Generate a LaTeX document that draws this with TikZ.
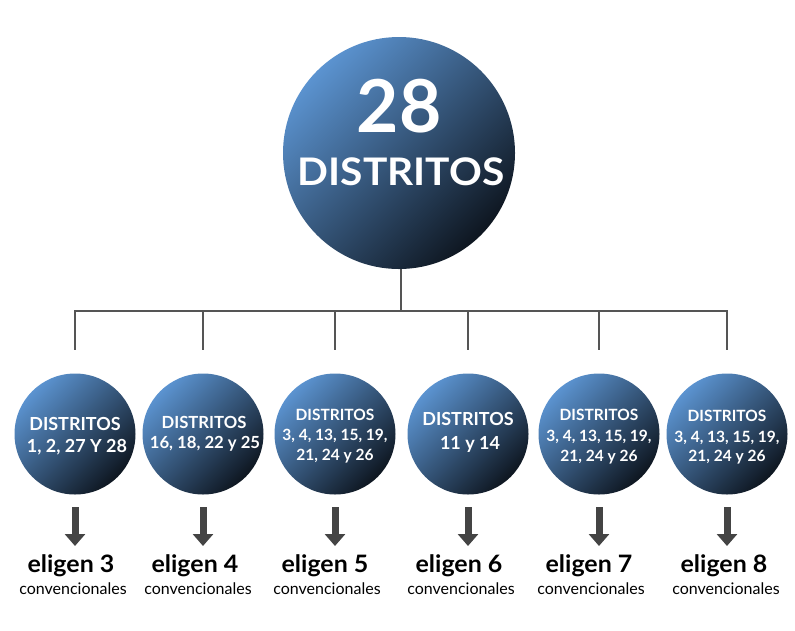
\documentclass[tikz,border=0pt]{standalone}
\usepackage{fontspec}
\setmainfont{Lato}
\newfontfamily\latowide[FakeStretch=1.07]{Lato}
\newfontfamily\latoel[FakeStretch=1.04]{Lato}
\usetikzlibrary{arrows.meta}
\definecolor{ballA}{HTML}{5B93D0}
\definecolor{ballB}{HTML}{34557B}
\definecolor{ballC}{HTML}{0E1620}
\definecolor{linegray}{HTML}{555555}
\definecolor{arrowgray}{HTML}{444444}
\tikzset{
  ball/.style={circle, inner sep=0pt, minimum size=#1, shading=axis,
    top color=ballA, middle color=ballB, bottom color=ballC, shading angle=45},
  wtext/.style={text=white, anchor=base, inner sep=0pt},
  sz/.style={font=\bfseries\fontsize{#1}{#1}\selectfont},
  conn/.style={draw=linegray, line width=2pt},
  downarrow/.style={draw=arrowgray, line width=7pt, -{Triangle[width=20pt,length=12pt]}},
  eltext/.style={font=\latoel\bfseries\fontsize{24}{26}\selectfont, anchor=base, inner sep=0pt},
  cvtext/.style={font=\fontsize{16}{18}\selectfont, anchor=base, inner sep=0pt},
}
\begin{document}
\begin{tikzpicture}[x=1pt,y=-1pt]
\useasboundingbox (0,0) rectangle (795,630);
% top ball
\node[ball=232pt] (top) at (399,153) {};
\node[wtext, font=\bfseries\fontsize{73}{80}\selectfont] (t28) at (399,132) {28};
\node[wtext, font=\latowide\bfseries\fontsize{38}{40}\selectfont] (tdist) at (401,185) {DISTRITOS};
% connectors
\coordinate (jc) at (401,311);
\foreach \i/\x in {1/75,2/203,3/335,4/468,5/599,6/727}{
  \coordinate (j\i) at (\x,311);
  \coordinate (d\i) at (\x,350);
  \node[ball=121pt] (c\i) at (\x,434) {};
  \coordinate (a\i) at (\x,507);
  \coordinate (b\i) at (\x,546);
}
\draw[conn] (top.south -| jc) -- (jc);
\draw[conn, line cap=rect] (j1) -- (j6);
\foreach \i in {1,...,6}{
  \draw[conn] (j\i) -- (d\i);
  \draw[downarrow] (a\i) -- (b\i);
}
% small ball texts
\node[wtext, sz=18] (c1a) at (75,430) {DISTRITOS};
\node[wtext, sz=18] (c1b) at (77,452) {1, 2, 27 Y 28};
\node[wtext, sz=16.7] (c2a) at (204,428) {DISTRITOS};
\node[wtext, sz=16.7] (c2b) at (205,448) {16, 18, 22 y 25};
\node[wtext, sz=15.5] (c3a) at (335,420) {DISTRITOS};
\node[wtext, sz=15.5] (c3b) at (335,440) {3, 4, 13, 15, 19,};
\node[wtext, sz=15.5] (c3c) at (335,460) {21, 24 y 26};
\node[wtext, sz=18] (c4a) at (468,425) {DISTRITOS};
\node[wtext, sz=18] (c4b) at (470,449) {11 y 14};
\node[wtext, sz=15.5] (c5a) at (599,420) {DISTRITOS};
\node[wtext, sz=15.5] (c5b) at (599,441) {3, 4, 13, 15, 19,};
\node[wtext, sz=15.5] (c5c) at (599,461) {21, 24 y 26};
\node[wtext, sz=15.5] (c6a) at (727,421) {DISTRITOS};
\node[wtext, sz=15.5] (c6b) at (727,442) {3, 4, 13, 15, 19,};
\node[wtext, sz=15.5] (c6c) at (727,461) {21, 24 y 26};
% bottom labels
\foreach \i/\x/\n in {1/71/3,2/195/4,3/325/5,4/459/6,5/589/7,6/724/8}{
  \node[eltext] (e\i) at (\x,572) {eligen \n};
}
\foreach \i/\x in {1/73,2/198,3/327,4/461,5/591,6/726}{
  \node[cvtext] (v\i) at (\x,594) {convencionales};
}
\end{tikzpicture}
\end{document}
